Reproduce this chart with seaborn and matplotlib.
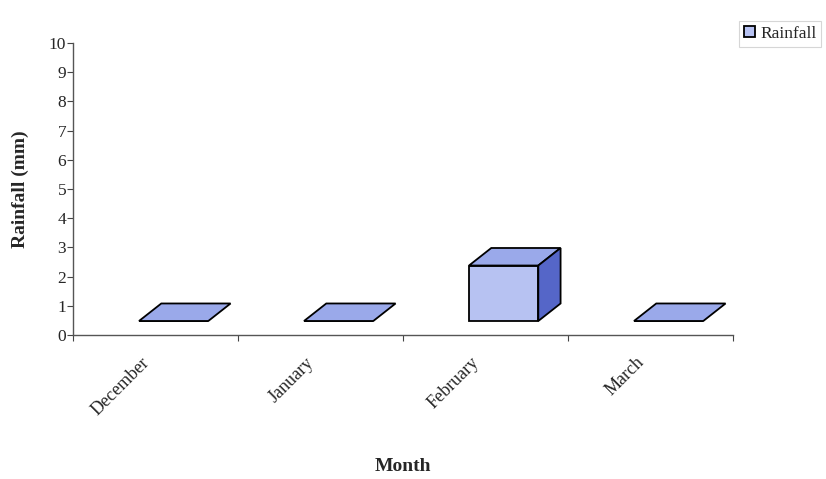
import numpy as np
import pandas as pd
import matplotlib
matplotlib.use('Agg')
import matplotlib.pyplot as plt
import matplotlib.transforms as mtransforms
from matplotlib.patches import Polygon
import seaborn as sns

# 数据
months = ['December', 'January', 'February', 'March']
rainfall = [0.0, 0.0, 1.9, 0.0]
y_ticks = list(range(0, 11))

df = pd.DataFrame({'Month': months, 'Rainfall': rainfall})

sns.set_theme(style='white')
plt.rcParams['font.family'] = ['Liberation Serif', 'DejaVu Serif']

fig = plt.figure(figsize=(8.26, 4.79), dpi=100)
ax = fig.add_axes([0.0884, 0.3006, 0.799, 0.6096])

front_col = '#b7c2f2'
top_col = '#9aa9ea'
side_col = '#5566c8'

sns.barplot(data=df, x='Month', y='Rainfall', width=0.42, color=front_col,
            edgecolor='black', linewidth=1.3, saturation=1, ax=ax, label='Rainfall')

# 伪3D效果: 正面偏移, 顶面和侧面
off_x, off_y = 0.11, 0.48
dep_x, dep_y = 0.135, 0.6
for p in ax.patches:
    x0 = p.get_x() + off_x
    w = p.get_width()
    h = p.get_height()
    p.set_x(x0)
    p.set_y(off_y)
    y1 = off_y + h
    top = Polygon([(x0, y1), (x0 + w, y1), (x0 + w + dep_x, y1 + dep_y), (x0 + dep_x, y1 + dep_y)],
                  closed=True, facecolor=top_col, edgecolor='black', linewidth=1.3, zorder=3)
    ax.add_patch(top)
    if h > 0:
        side = Polygon([(x0 + w, off_y), (x0 + w + dep_x, off_y + dep_y),
                        (x0 + w + dep_x, y1 + dep_y), (x0 + w, y1)],
                       closed=True, facecolor=side_col, edgecolor='black', linewidth=1.3, zorder=3)
        ax.add_patch(side)

ax.set_xlim(-0.5, 3.5)
ax.set_ylim(0, 10)
ax.set_yticks(y_ticks)
ax.set_yticklabels([str(t) for t in y_ticks], fontsize=12.5)

ax.set_xticks(range(len(months)))
ax.set_xticklabels(months, rotation=45, ha='right', va='center', rotation_mode='anchor', fontsize=13)
ax.set_xticks(np.arange(-0.5, 4.0, 1.0), minor=True)
ax.tick_params(axis='x', which='major', length=0, pad=18)
ax.tick_params(axis='x', which='minor', length=4, width=0.8, color='#444444', bottom=True)
ax.tick_params(axis='y', length=4, width=0.8, color='#444444', left=True, pad=1)

# 月份标签稍微左移
shift = mtransforms.ScaledTranslation(-9 / 100, 0, fig.dpi_scale_trans)
for lab in ax.get_xticklabels():
    lab.set_transform(lab.get_transform() + shift)

for s in ['top', 'right']:
    ax.spines[s].set_visible(False)
for s in ['left', 'bottom']:
    ax.spines[s].set_color('#555555')
    ax.spines[s].set_linewidth(1.0)

ax.set_ylabel('Rainfall (mm)', fontsize=14, fontweight='bold', labelpad=14)
ax.set_xlabel('Month', fontsize=14, fontweight='bold', labelpad=28)

leg = ax.legend(loc='upper right', bbox_to_anchor=(1.005, 0.975), bbox_transform=fig.transFigure,
                fontsize=12.5, frameon=True, fancybox=False, handlelength=0.6, handleheight=0.6,
                handletextpad=0.3, borderpad=0.3)
leg.get_frame().set_edgecolor('#cccccc')
leg.get_frame().set_linewidth(0.8)
for h in leg.get_patches():
    h.set_facecolor(front_col)
    h.set_edgecolor('black')

fig.savefig('out.png', dpi=100, facecolor='white')
